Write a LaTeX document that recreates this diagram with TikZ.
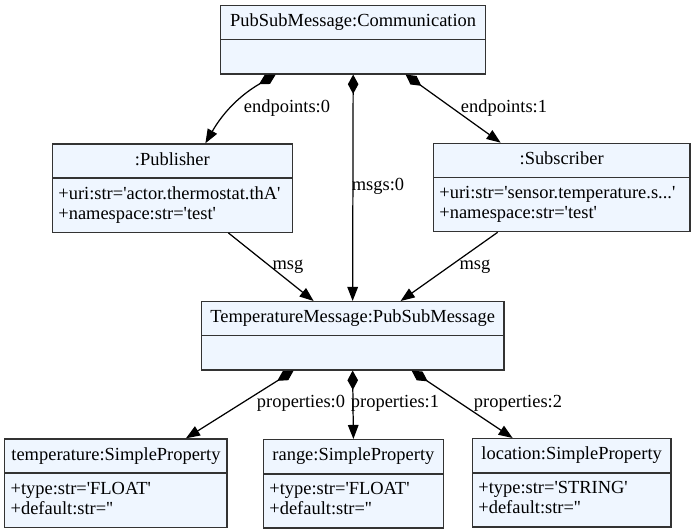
\documentclass[tikz,border=0pt]{standalone}
\usepackage{fontspec}
\setmainfont{Liberation Serif}
\usepackage{xcolor}
\usetikzlibrary{arrows.meta,shapes.multipart}
\definecolor{clsfill}{HTML}{EFF6FF}
\newcommand{\sq}{\textquotesingle}

\begin{document}
\begin{tikzpicture}[
        x=0.02cm, y=-0.02cm,
        >=Stealth,
        cls/.style={
            rectangle split,
            rectangle split parts=2,
            rectangle split part align={center,left},
            draw=black!80,
            line width=0.8pt,
            fill=clsfill,
            align=left,
            anchor=north west,
            inner xsep=3.4pt,
            inner ysep=3.6pt,
            font=\fontsize{10.5}{11.4}\selectfont
        },
        comp/.style={{Diamond[length=11pt,width=6pt]}-{Triangle[length=8pt,width=6pt]}, line width=0.7pt},
        flow/.style={-{Triangle[length=8pt,width=6pt]}, line width=0.7pt},
        lbl/.style={font=\fontsize{10.5}{11.4}\selectfont, inner sep=0pt}
    ]
        \useasboundingbox (0,0) rectangle (695,531);

        \node[cls, minimum width=5.3cm] (comm) at (220,5)
            {\strut PubSubMessage:Communication\nodepart{two}\strut};
        \node[cls, minimum width=4.8cm] (pub) at (51.7,143.3)
            {\strut :Publisher\nodepart{two}\strut +uri:str=\sq actor.thermostat.thA\sq\\\strut +namespace:str=\sq test\sq};
        \node[cls, minimum width=5.13cm] (sub) at (432.7,142.7)
            {\strut :Subscriber\nodepart{two}\strut +uri:str=\sq sensor.temperature.s...\sq\\\strut +namespace:str=\sq test\sq};
        \node[cls, minimum width=6.05cm] (tmsg) at (200.7,301)
            {\strut TemperatureMessage:PubSubMessage\nodepart{two}\strut};
        \node[cls, minimum width=4.45cm] (ptemp) at (4,438.3)
            {\strut temperature:SimpleProperty\nodepart{two}\strut +type:str=\sq FLOAT\sq\\\strut +default:str=\sq\sq};
        \node[cls, minimum width=3.6cm] (prange) at (262.7,439)
            {\strut range:SimpleProperty\nodepart{two}\strut +type:str=\sq FLOAT\sq\\\strut +default:str=\sq\sq};
        \node[cls, minimum width=3.97cm] (ploc) at (471.7,438)
            {\strut location:SimpleProperty\nodepart{two}\strut +type:str=\sq STRING\sq\\\strut +default:str=\sq\sq};

        \draw[comp] ([xshift=-1.55cm]comm.south) to[out=-150,in=60] ([xshift=0.66cm]pub.north);
        \draw[comp] (comm.south) -- (tmsg.north);
        \draw[comp] ([xshift=1.05cm]comm.south) -- ([xshift=-1.22cm]sub.north);
        \draw[flow] ([xshift=1.12cm]pub.south) -- ([xshift=-0.78cm]tmsg.north);
        \draw[flow] ([xshift=-1.28cm]sub.south) -- ([xshift=0.96cm]tmsg.north);
        \draw[comp] ([xshift=-1.18cm]tmsg.south) -- ([xshift=1.4cm]ptemp.north);
        \draw[comp] (tmsg.south) -- (prange.north);
        \draw[comp] ([xshift=1.18cm]tmsg.south) -- ([xshift=-1.18cm]ploc.north);

        \node[lbl] (ep0) at (287,108) {endpoints:0};
        \node[lbl] (ms0) at (378,186) {msgs:0};
        \node[lbl] (ep1) at (504,108) {endpoints:1};
        \node[lbl] (msgl) at (288,267) {msg};
        \node[lbl] (msgr) at (475,267) {msg};
        \node[lbl] (pr0) at (301,403) {properties:0};
        \node[lbl] (pr1) at (395,403) {properties:1};
        \node[lbl] (pr2) at (518,403) {properties:2};
    \end{tikzpicture}
\end{document}
